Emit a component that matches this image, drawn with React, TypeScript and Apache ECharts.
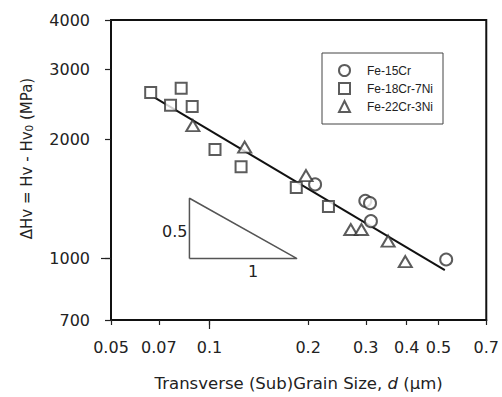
import { useEffect, useRef } from 'react';
import * as echarts from 'echarts';

const xTicks = [0.05, 0.07, 0.1, 0.2, 0.3, 0.4, 0.5, 0.7];
const xMajorTicks = [0.1];
const yTicks = [700, 1000, 2000, 3000, 4000];
const yMajorTicks = [1000];
const seriesNames = ['Fe-15Cr', 'Fe-18Cr-7Ni', 'Fe-22Cr-3Ni'];
const fe15Cr = [[0.21, 1539], [0.299, 1399], [0.309, 1380], [0.311, 1243], [0.528, 995]];
const fe18Cr7Ni = [[0.0661, 2624], [0.0819, 2690], [0.076, 2439], [0.0885, 2421], [0.1039, 1886], [0.1248, 1704], [0.184, 1511], [0.2307, 1354]];
const fe22Cr3Ni = [[0.0889, 2165], [0.128, 1912], [0.197, 1619], [0.27, 1184], [0.291, 1184], [0.351, 1107], [0.396, 983]];
const fitLine = [[0.068, 2548], [0.523, 935]];
const slopeTriangle = [[0.0868, 1000], [0.0868, 1420], [0.185, 1000], [0.0868, 1000]];

const AXIS_FONT = 'DejaVu Sans';
const TEXT = '#222';

export default function App() {
  const ref = useRef<HTMLDivElement>(null);
  useEffect(() => {
    if (!ref.current) return;
    const chart = echarts.init(ref.current, undefined, { renderer: 'svg' });
    const markerStyle = { color: '#333', borderWidth: 1.3 };
    chart.setOption({
      animation: false,
      backgroundColor: '#fff',
      grid: { left: 111, right: 13, top: 20, bottom: 74, show: true, borderColor: '#111', borderWidth: 2 },
      xAxis: [
        {
          type: 'log', logBase: 10, min: 0.05, max: 0.7, position: 'bottom',
          name: '{a|Transverse (Sub)Grain Size, }{i|d}{a| (μm)}',
          nameLocation: 'middle', nameGap: 55,
          nameTextStyle: {
            rich: {
              a: { fontFamily: AXIS_FONT, fontSize: 16.5, color: TEXT },
              i: { fontFamily: AXIS_FONT, fontSize: 16.5, color: TEXT, fontStyle: 'italic' },
            },
          },
          axisLine: { show: true, lineStyle: { color: '#111', width: 2 } },
          axisTick: { show: true, customValues: xTicks, length: 5, lineStyle: { color: '#222', width: 1.2 } },
          axisLabel: { customValues: xTicks, margin: 19, fontFamily: AXIS_FONT, fontSize: 16, color: TEXT, formatter: (v: number) => String(v) },
          splitLine: { show: false },
          minorTick: { show: false },
        },
        {
          type: 'log', logBase: 10, min: 0.05, max: 0.7, position: 'bottom',
          axisLine: { show: false },
          axisTick: { show: true, customValues: xMajorTicks, length: 9, lineStyle: { color: '#222', width: 1.2 } },
          axisLabel: { show: false },
          splitLine: { show: false },
        },
      ],
      yAxis: [
        {
          type: 'log', logBase: 10, min: 700, max: 4000, position: 'left',
          name: '{a|ΔHv = Hv - Hv}{s|0}{a| (MPa)}',
          nameLocation: 'middle', nameGap: 77, nameRotate: 90,
          nameTextStyle: {
            padding: [0, 0, 0, 23],
            rich: {
              a: { fontFamily: AXIS_FONT, fontSize: 15, color: TEXT, lineHeight: 20, verticalAlign: 'bottom' },
              s: { fontFamily: AXIS_FONT, fontSize: 10.5, color: TEXT, lineHeight: 16, verticalAlign: 'bottom' },
            },
          },
          axisLine: { show: true, lineStyle: { color: '#111', width: 2 } },
          axisTick: { show: true, customValues: yTicks, length: 6, lineStyle: { color: '#222', width: 1.2 } },
          axisLabel: { customValues: yTicks, margin: 21, fontFamily: AXIS_FONT, fontSize: 16, color: TEXT, formatter: (v: number) => String(v) },
          splitLine: { show: false },
          minorTick: { show: false },
        },
        {
          type: 'log', logBase: 10, min: 700, max: 4000, position: 'left',
          axisLine: { show: false },
          axisTick: { show: true, customValues: yMajorTicks, length: 10, lineStyle: { color: '#222', width: 1.2 } },
          axisLabel: { show: false },
          splitLine: { show: false },
        },
      ],
      legend: {
        orient: 'vertical', left: 322, top: 53,
        data: seriesNames,
        itemWidth: 11, itemHeight: 11, itemGap: 5,
        padding: [11, 10, 11, 16],
        borderColor: '#444', borderWidth: 1,
        backgroundColor: '#fff',
        textStyle: { fontFamily: 'Liberation Sans', fontSize: 12, color: TEXT, padding: [0, 0, 0, 12] },
      },
      graphic: [
        { type: 'text', left: 162, top: 223, style: { text: '0.5', font: `16px "${AXIS_FONT}"`, fill: TEXT } },
        { type: 'text', left: 248, top: 263, style: { text: '1', font: `16px "${AXIS_FONT}"`, fill: TEXT } },
      ],
      series: [
        {
          name: 'slope', type: 'line', data: slopeTriangle, symbol: 'none', silent: true,
          lineStyle: { color: '#555', width: 1.5 }, z: 1,
        },
        {
          name: 'fit', type: 'line', data: fitLine, symbol: 'none', silent: true,
          lineStyle: { color: '#111', width: 2 }, z: 2,
        },
        { name: seriesNames[0], type: 'scatter', data: fe15Cr, symbol: 'emptyCircle', symbolSize: 12, itemStyle: markerStyle, z: 3 },
        { name: seriesNames[1], type: 'scatter', data: fe18Cr7Ni, symbol: 'emptyRect', symbolSize: 11, itemStyle: markerStyle, z: 3 },
        { name: seriesNames[2], type: 'scatter', data: fe22Cr3Ni, symbol: 'emptyTriangle', symbolSize: [13, 11], itemStyle: markerStyle, z: 3 },
      ],
    });
    return () => chart.dispose();
  }, []);
  return <div ref={ref} style={{ position: 'fixed', left: 0, top: 0, width: 502, height: 397 }} />;
}
